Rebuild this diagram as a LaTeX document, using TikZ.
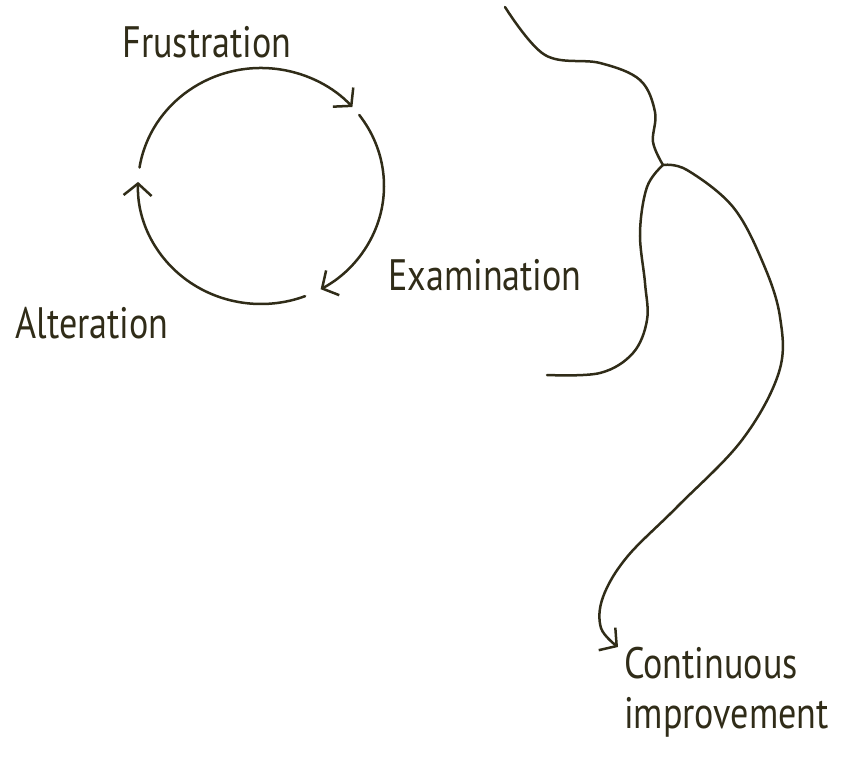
\documentclass[tikz,border=0pt]{standalone}
\usepackage{fontspec}
\newfontfamily\handfont{PT Sans}[FakeStretch=0.82]
\usepackage{tikz}
\usetikzlibrary{arrows.meta,positioning}
\definecolor{cInk}{RGB}{48,44,24}
\tikzset{
  ink/.style={draw=cInk,line width=2.5pt,line cap=round,line join=round},
  inkarr/.style={ink,-{Straight Barb[length=12pt,width=28pt,line width=2.5pt]}},
  lbl/.style={text=cInk,font=\handfont\fontsize{44}{50}\selectfont,inner sep=0pt,align=left}
}
\begin{document}
\begin{tikzpicture}[x=1pt,y=-1pt]
  \useasboundingbox (0,0) rectangle (845,770);

  % cycle
  \coordinate (hub) at (261,186);
  \draw[inkarr] (hub) ++(-171:123 and 118) arc[start angle=-171,end angle=-42,x radius=123,y radius=118];
  \draw[inkarr] (hub) ++(-37:123 and 118) arc[start angle=-37,end angle=61,x radius=123,y radius=118];
  \draw[inkarr] (hub) ++(69:123 and 118) arc[start angle=69,end angle=182,x radius=123,y radius=118];

  \node[lbl] (frus) at (207,42) {Frustration};
  \node[lbl] (exam) at (485,275) {Examination};
  \node[lbl] (alter) at (92,323) {Alteration};

  % fork
  \coordinate (top) at (505,7);
  \coordinate (fork) at (663,165);
  \coordinate (back) at (547,375);
  \coordinate (goal) at (618,647);
  \draw[ink] plot[smooth,tension=0.6] coordinates
    {(top) (545,55) (600,63) (640,80) (655,112) (653,142) (fork)};
  \draw[ink] plot[smooth,tension=0.6] coordinates
    {(fork) (647,187) (640,233) (645,283) (647,320) (633,353) (600,373) (back)};
  \draw[inkarr] plot[smooth,tension=0.6] coordinates
    {(fork) (687,170) (733,207) (763,263) (780,317) (779,372)
     (742,440) (677,507) (627,557) (603,597) (601,628) (goal)};

  \node[lbl,anchor=north west] (cont) at (624,647) {Continuous\\improvement};
\end{tikzpicture}
\end{document}
